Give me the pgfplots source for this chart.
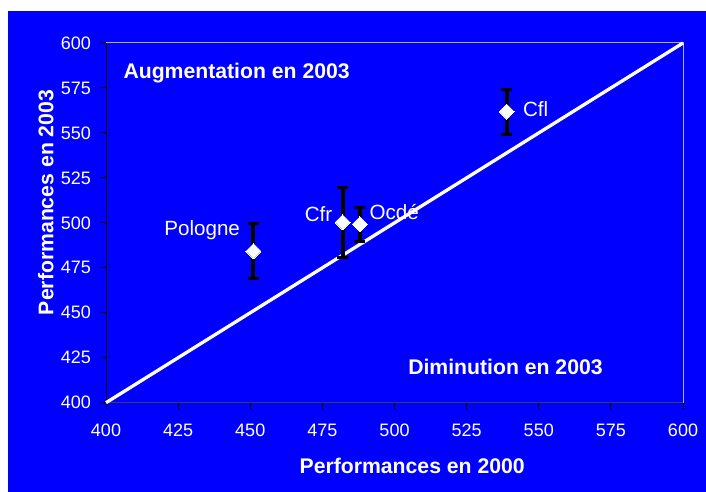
\documentclass[border=0pt]{standalone}
\usepackage{fontspec}
\setmainfont{Liberation Sans}
\usepackage{pgfplots}
\pgfplotsset{compat=1.18}
\definecolor{bg}{RGB}{0,0,255}
\begin{document}
\begin{tikzpicture}[x=1bp,y=1bp]
\path[use as bounding box, fill=white] (0,0) rectangle (706,492);
\fill[bg] (8,0) rectangle (706,481);
\begin{axis}[
  at={(106bp,89.3bp)}, anchor=south west,
  scale only axis, width=577bp, height=359.7bp,
  xmin=400,xmax=600,ymin=400,ymax=600,
  xtick={400,425,...,600}, ytick={400,425,...,600},
  axis line style={draw=none},
  tick align=outside, xtick pos=left, ytick pos=left,
  major tick length=6bp,
  tick style={black, line width=1bp},
  /pgf/number format/assume math mode=true,
  ticklabel style={font=\fontsize{18bp}{20bp}\selectfont, text=white},
  xticklabel style={anchor=base, yshift=-28bp, inner sep=0pt},
  yticklabel style={anchor=east, xshift=-9bp, inner sep=0pt},
  clip=false,
]
\draw[black, line width=1bp] (rel axis cs:0,0) -- (rel axis cs:0,1);
\draw[black!75, line width=1.3bp] (rel axis cs:0,0) -- (rel axis cs:1,0);
\draw[gray!60, line width=1bp] (rel axis cs:0,1) -- (rel axis cs:1,1) -- (rel axis cs:1,0);
\addplot[white, line width=3.3bp] coordinates {(400,400) (600,600)};
\addplot[only marks, mark=square*, mark size=5.3bp,
  mark options={fill=white, draw=white, rotate=45, line width=0pt},
  error bars/.cd, y dir=both, y explicit,
  error bar style={black, line width=4bp},
  error mark options={black, line width=3bp, mark size=5.5bp, rotate=90}]
  coordinates {
  (451.1,484.3) +- (0,15.5)
  (482.0,500.3) +- (0,19.3)
  (488.0,499.2) +- (0,9.6)
  (538.9,561.8) +- (0,12.5)
  };
\begin{scope}[every node/.style={inner sep=0pt, text=white, font=\fontsize{20.6bp}{22bp}\selectfont}]
\node[anchor=base east] at (axis cs:446.5,493.2) {Pologne};
\node[anchor=base east] at (axis cs:478.5,500.6) {Cfr};
\node[anchor=base west] at (axis cs:491.3,502) {Ocdé};
\node[anchor=base west] at (axis cs:544.5,559) {Cfl};
\end{scope}
\begin{scope}[every node/.style={inner sep=0pt, text=white, font=\bfseries\fontsize{21.2bp}{24bp}\selectfont}]
\node[anchor=base west] at (axis cs:406,580) {Augmentation en 2003};
\node[anchor=base west] at (axis cs:504.7,415.4) {Diminution en 2003};
\end{scope}
\end{axis}
\begin{scope}[every node/.style={inner sep=0pt, text=white, font=\bfseries\fontsize{21.2bp}{24bp}\selectfont}]
\node[anchor=base] at (412.2,18) {Performances en 2000};
\node[anchor=base, rotate=90] at (53.3,289.5) {Performances en 2003};
\end{scope}
\end{tikzpicture}
\end{document}
